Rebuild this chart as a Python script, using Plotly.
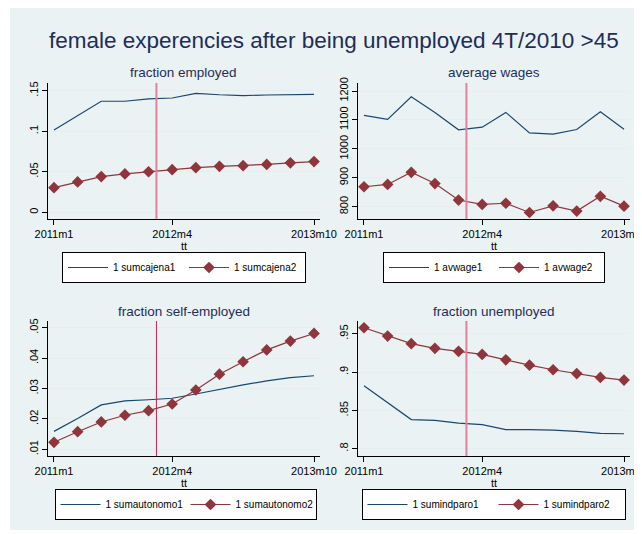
import plotly.graph_objects as go

# ---- data ----
tt = [0, 3, 6, 9, 12, 15, 18, 21, 24, 27, 30, 33]  # months since 2011m1 (quarterly)
x_tickvals = [0, 15, 33]
x_ticktext = ["2011m1", "2012m4", "2013m10"]
vline_x = 13

emp1 = [0.1015, 0.119, 0.137, 0.137, 0.140, 0.141, 0.1467, 0.145, 0.144, 0.1447, 0.1455, 0.1455]
emp2 = [0.0304, 0.0374, 0.044, 0.0473, 0.050, 0.0526, 0.055, 0.0567, 0.0575, 0.059, 0.061, 0.0625]
wage1 = [1116, 1102, 1180, 1126, 1066, 1075, 1126, 1055, 1051, 1067, 1128, 1068]
wage2 = [869, 877, 919, 880, 823, 808, 812, 780, 803, 785, 836, 802]
self1 = [0.0159, 0.0201, 0.0246, 0.0259, 0.0263, 0.0268, 0.0282, 0.0298, 0.0312, 0.0325, 0.0336, 0.0342]
self2 = [0.0123, 0.0158, 0.0190, 0.0212, 0.0227, 0.0249, 0.0295, 0.0347, 0.0388, 0.0427, 0.0456, 0.0481]
unemp1 = [0.882, 0.860, 0.838, 0.837, 0.8334, 0.8313, 0.825, 0.8249, 0.8243, 0.8226, 0.820, 0.8195]
unemp2 = [0.9578, 0.947, 0.937, 0.931, 0.927, 0.923, 0.916, 0.909, 0.903, 0.898, 0.893, 0.8895]

titles = ["fraction employed", "average wages", "fraction self-employed", "fraction unemployed"]
names1 = ["1 sumcajena1", "1 avwage1", "1 sumautonomo1", "1 sumindparo1"]
names2 = ["1 sumcajena2", "1 avwage2", "1 sumautonomo2", "1 sumindparo2"]
series1 = [emp1, wage1, self1, unemp1]
series2 = [emp2, wage2, self2, unemp2]
y_tickvals = [[0, 0.05, 0.1, 0.15], [800, 900, 1000, 1100, 1200],
              [0.01, 0.02, 0.03, 0.04, 0.05], [0.8, 0.85, 0.9, 0.95]]
y_ticktext = [["0", ".05", ".1", ".15"], ["800", "900", "1000", "1100", "1200"],
              [".01", ".02", ".03", ".04", ".05"], [".8", ".85", ".9", ".95"]]
y_ranges = [[-0.0083, 0.1595], [757.5, 1227.7], [0.0078, 0.0522], [0.7905, 0.9666]]

main_title = "female experencies after being unemployed 4T/2010 >45"

# ---- style ----
W, H = 642, 534
OFF = 8  # page body margin offset
NAVY = "#1A476F"
MAROON = "#90353B"
BG = "#EAF2F3"
TXT = "#1E2D5A"
FONT = "Liberation Sans, Arial, sans-serif"

def px_x(p):
    return (p - OFF) / W

def px_y(p):
    return 1 - (p - OFF) / H

panels = [
    dict(x0=48, x1=320, y0=83, y1=219),
    dict(x0=358, x1=630, y0=83, y1=219),
    dict(x0=48, x1=320, y0=321, y1=456),
    dict(x0=358, x1=630, y0=321, y1=456),
]
legend_pos = [(184, 252), (494, 252), (185.5, 489), (493.5, 489)]
entry_w = [66, 55, 75, 76]
vcolors = ["#E0829A", "#E0829A", "#C8204A", "#E0829A"]
vwidths = [2, 2, 1, 2]

fig = go.Figure()
layout = dict(
    width=W, height=H,
    margin=dict(l=0, r=0, t=0, b=0, autoexpand=False),
    paper_bgcolor="white",
    plot_bgcolor="white",
    font=dict(family=FONT, size=11, color="black"),
    showlegend=True,
)
shapes = [dict(type="rect", xref="paper", yref="paper", x0=px_x(10), x1=1.05,
               y0=px_y(530), y1=px_y(8), fillcolor=BG, line=dict(width=0), layer="below")]
annotations = [dict(text=main_title, x=px_x(334), y=px_y(40), xref="paper", yref="paper",
                    showarrow=False, font=dict(size=22.5, color=TXT, family=FONT),
                    xanchor="center", yanchor="middle")]

for i in range(4):
    p = panels[i]
    k = "" if i == 0 else str(i + 1)
    xa, ya = "x" + k, "y" + k
    lg = "legend" + k
    fig.add_trace(go.Scatter(x=tt, y=series1[i], mode="lines", name=names1[i],
                             line=dict(color=NAVY, width=1.2), xaxis=xa, yaxis=ya, legend=lg))
    fig.add_trace(go.Scatter(x=tt, y=series2[i], mode="lines+markers", name=names2[i],
                             line=dict(color=MAROON, width=1.2),
                             marker=dict(symbol="diamond", size=9, color=MAROON),
                             xaxis=xa, yaxis=ya, legend=lg))
    layout["xaxis" + k] = dict(
        domain=[px_x(p["x0"]), px_x(p["x1"])], anchor=ya,
        range=[-0.76, 33.76], tickvals=x_tickvals, ticktext=x_ticktext,
        showgrid=False, zeroline=False, showline=True, linecolor="black", linewidth=1,
        ticks="outside", ticklen=5, tickcolor="black", tickfont=dict(size=11),
        title=dict(text="tt", font=dict(size=11), standoff=2),
    )
    layout["yaxis" + k] = dict(
        domain=[px_y(p["y1"]), px_y(p["y0"])], anchor=xa,
        range=y_ranges[i], tickvals=y_tickvals[i], ticktext=y_ticktext[i],
        tickangle=-90, showgrid=True, gridcolor="#E6EEF0", gridwidth=1,
        zeroline=False, showline=True, linecolor="black", linewidth=1,
        ticks="outside", ticklen=5, tickcolor="black", tickfont=dict(size=11),
    )
    shapes.append(dict(type="line", xref=xa, yref=ya + " domain", x0=vline_x, x1=vline_x,
                       y0=0, y1=1, line=dict(color=vcolors[i], width=vwidths[i])))
    cx = (p["x0"] + p["x1"]) / 2
    annotations.append(dict(text=titles[i], x=px_x(cx), y=px_y(p["y0"] - 10),
                            xref="paper", yref="paper", showarrow=False,
                            font=dict(size=13.5, color=TXT, family=FONT),
                            xanchor="center", yanchor="middle"))
    lx, ly = legend_pos[i]
    layout[lg] = dict(
        orientation="h", x=px_x(lx), y=px_y(ly), xanchor="center", yanchor="top",
        bgcolor="white", bordercolor="black", borderwidth=1,
        font=dict(size=10, family=FONT), itemwidth=40,
        entrywidth=entry_w[i], entrywidthmode="pixels", tracegroupgap=0,
    )

layout["shapes"] = shapes
layout["annotations"] = annotations
fig.update_layout(**layout)
fig.write_html("out.html")
